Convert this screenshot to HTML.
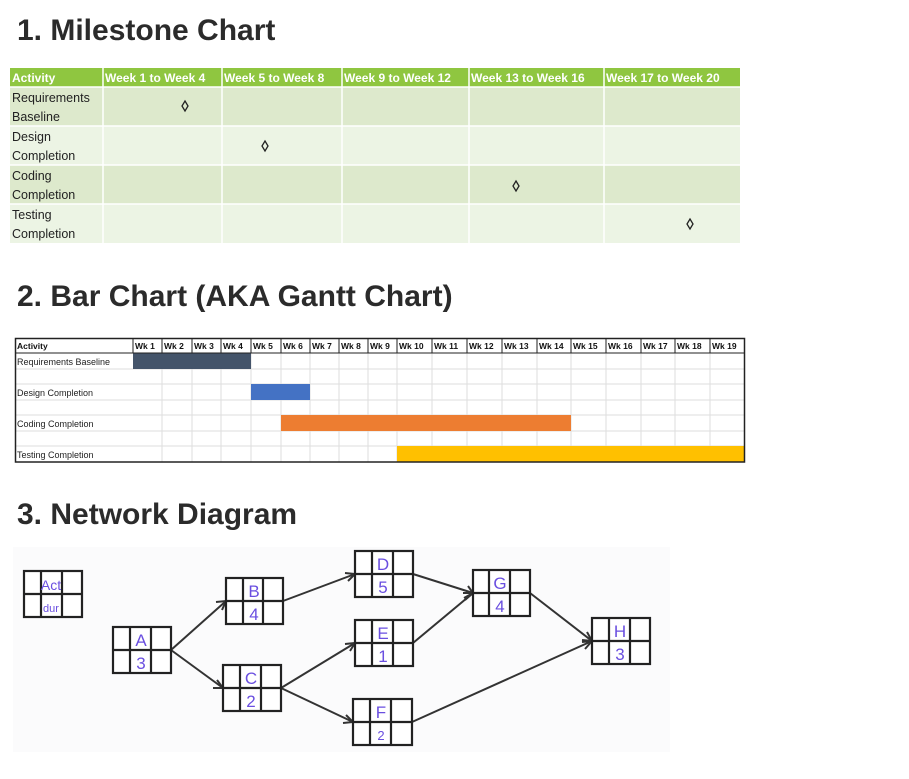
<!DOCTYPE html>
<html><head><meta charset="utf-8"><style>
body{margin:0;background:#fff;width:909px;height:779px;overflow:hidden;font-family:"Liberation Sans",sans-serif}
svg{position:absolute;left:0;top:0}
</style></head><body>
<svg width="909" height="779" viewBox="0 0 909 779" xmlns="http://www.w3.org/2000/svg" font-family="Liberation Sans, sans-serif">
<g font-size="30" font-weight="bold" fill="#2b2b2b">
<text x="17" y="40">1. Milestone Chart</text>
<text x="17" y="306">2. Bar Chart (AKA Gantt Chart)</text>
<text x="17" y="524">3. Network Diagram</text>
</g>
<!-- Milestone table -->
<rect x="10" y="68" width="730" height="19" fill="#8fc640"/>
<rect x="10" y="87" width="730" height="39" fill="#dde9cc"/>
<rect x="10" y="126" width="730" height="39" fill="#ecf4e4"/>
<rect x="10" y="165" width="730" height="39" fill="#dde9cc"/>
<rect x="10" y="204" width="730" height="39" fill="#ecf4e4"/>
<g stroke="#fff" stroke-width="1.5">
<line x1="103" y1="68" x2="103" y2="243"/><line x1="222" y1="68" x2="222" y2="243"/>
<line x1="342" y1="68" x2="342" y2="243"/><line x1="469" y1="68" x2="469" y2="243"/>
<line x1="604" y1="68" x2="604" y2="243"/>
<line x1="10" y1="87" x2="740" y2="87"/><line x1="10" y1="126" x2="740" y2="126"/>
<line x1="10" y1="165" x2="740" y2="165"/><line x1="10" y1="204" x2="740" y2="204"/>
</g>
<g font-size="12" font-weight="bold" fill="#fff">
<text x="12" y="82">Activity</text><text x="105" y="82">Week 1 to Week 4</text>
<text x="224" y="82">Week 5 to Week 8</text><text x="344" y="82">Week 9 to Week 12</text>
<text x="471" y="82">Week 13 to Week 16</text><text x="606" y="82">Week 17 to Week 20</text>
</g>
<g font-size="12.5" fill="#222">
<text x="12" y="102">Requirements</text><text x="12" y="121">Baseline</text>
<text x="12" y="141">Design</text><text x="12" y="160">Completion</text>
<text x="12" y="180">Coding</text><text x="12" y="199">Completion</text>
<text x="12" y="219">Testing</text><text x="12" y="238">Completion</text>
</g>
<g fill="none" stroke="#222" stroke-width="1.3">
<path d="M185 101 L188 106 L185 111 L182 106Z"/><path d="M265 141 L268 146 L265 151 L262 146Z"/>
<path d="M516 181 L519 186 L516 191 L513 186Z"/><path d="M690 219 L693 224 L690 229 L687 224Z"/>
</g>
<!-- Gantt -->
<g stroke="#ddd" stroke-width="1">
<line x1="15" y1="369" x2="745" y2="369"/><line x1="15" y1="384" x2="745" y2="384"/>
<line x1="15" y1="400" x2="745" y2="400"/><line x1="15" y1="415" x2="745" y2="415"/>
<line x1="15" y1="431" x2="745" y2="431"/><line x1="15" y1="446" x2="745" y2="446"/>
<line x1="162" y1="353" x2="162" y2="462"/><line x1="192" y1="353" x2="192" y2="462"/><line x1="221" y1="353" x2="221" y2="462"/><line x1="251" y1="353" x2="251" y2="462"/><line x1="281" y1="353" x2="281" y2="462"/><line x1="310" y1="353" x2="310" y2="462"/><line x1="339" y1="353" x2="339" y2="462"/><line x1="368" y1="353" x2="368" y2="462"/><line x1="397" y1="353" x2="397" y2="462"/><line x1="432" y1="353" x2="432" y2="462"/><line x1="467" y1="353" x2="467" y2="462"/><line x1="502" y1="353" x2="502" y2="462"/><line x1="537" y1="353" x2="537" y2="462"/><line x1="571" y1="353" x2="571" y2="462"/><line x1="606" y1="353" x2="606" y2="462"/><line x1="641" y1="353" x2="641" y2="462"/><line x1="675" y1="353" x2="675" y2="462"/><line x1="710" y1="353" x2="710" y2="462"/>
</g>
<rect x="133" y="353" width="118" height="16" fill="#44546a"/>
<rect x="251" y="384" width="59" height="16" fill="#4472c4"/>
<rect x="281" y="415" width="290" height="16" fill="#ed7d31"/>
<rect x="397" y="446" width="347" height="16" fill="#ffc000"/>
<g stroke="#222" stroke-width="1" fill="none">
<rect x="15.5" y="338.5" width="729" height="123.5" stroke-width="1.5"/>
<line x1="15" y1="353" x2="745" y2="353"/>
<line x1="133" y1="338" x2="133" y2="353"/><line x1="162" y1="338" x2="162" y2="353"/><line x1="192" y1="338" x2="192" y2="353"/><line x1="221" y1="338" x2="221" y2="353"/><line x1="251" y1="338" x2="251" y2="353"/><line x1="281" y1="338" x2="281" y2="353"/><line x1="310" y1="338" x2="310" y2="353"/><line x1="339" y1="338" x2="339" y2="353"/><line x1="368" y1="338" x2="368" y2="353"/><line x1="397" y1="338" x2="397" y2="353"/><line x1="432" y1="338" x2="432" y2="353"/><line x1="467" y1="338" x2="467" y2="353"/><line x1="502" y1="338" x2="502" y2="353"/><line x1="537" y1="338" x2="537" y2="353"/><line x1="571" y1="338" x2="571" y2="353"/><line x1="606" y1="338" x2="606" y2="353"/><line x1="641" y1="338" x2="641" y2="353"/><line x1="675" y1="338" x2="675" y2="353"/><line x1="710" y1="338" x2="710" y2="353"/>
</g>
<g font-size="8.5" font-weight="bold" fill="#111">
<text x="17" y="349">Activity</text>
<text x="135" y="349">Wk 1</text><text x="164" y="349">Wk 2</text><text x="194" y="349">Wk 3</text><text x="223" y="349">Wk 4</text><text x="253" y="349">Wk 5</text><text x="283" y="349">Wk 6</text><text x="312" y="349">Wk 7</text><text x="341" y="349">Wk 8</text><text x="370" y="349">Wk 9</text><text x="399" y="349">Wk 10</text><text x="434" y="349">Wk 11</text><text x="469" y="349">Wk 12</text><text x="504" y="349">Wk 13</text><text x="539" y="349">Wk 14</text><text x="573" y="349">Wk 15</text><text x="608" y="349">Wk 16</text><text x="643" y="349">Wk 17</text><text x="677" y="349">Wk 18</text><text x="712" y="349">Wk 19</text>
</g>
<g font-size="9" fill="#222">
<text x="17" y="365">Requirements Baseline</text><text x="17" y="396">Design Completion</text>
<text x="17" y="427">Coding Completion</text><text x="17" y="458">Testing Completion</text>
</g>
<!-- Network -->
<rect x="13" y="547" width="657" height="205" fill="#fbfbfc"/>
<g stroke="#333" stroke-width="2" fill="none">
<path d="M171 650 L226 601 M171 650 L223 688 M283 601 L355 574 M281 688 L355 643 M281 688 L353 722 M413 574 L473 593 M413 643 L473 593 M530 593 L592 641 M412 722 L592 641"/>
<path d="M216 602 L226 601 L222 610 M213 688 L223 688 L217 680 M345 573 L355 574 L348 581 M345 644 L355 643 L350 651 M343 723 L353 722 L346 715 M463 593 L473 593 L465 600 M464 598 L473 593 L468 586 M582 640 L592 641 L587 632 M582 642 L592 641 L585 649"/>
</g>
<g stroke="#222" stroke-width="2.2" fill="#fff">
<g transform="translate(24,571)"><rect width="58" height="46"/><path d="M17 0V46M38 0V46M0 23H58"/></g>
<g transform="translate(113,627)"><rect width="58" height="46"/><path d="M17 0V46M38 0V46M0 23H58"/></g>
<g transform="translate(226,578)"><rect width="57" height="46"/><path d="M17 0V46M37 0V46M0 23H57"/></g>
<g transform="translate(223,665)"><rect width="58" height="46"/><path d="M17 0V46M38 0V46M0 23H58"/></g>
<g transform="translate(355,551)"><rect width="58" height="46"/><path d="M17 0V46M38 0V46M0 23H58"/></g>
<g transform="translate(355,620)"><rect width="58" height="46"/><path d="M17 0V46M38 0V46M0 23H58"/></g>
<g transform="translate(353,699)"><rect width="59" height="46"/><path d="M17 0V46M38 0V46M0 23H59"/></g>
<g transform="translate(473,570)"><rect width="57" height="46"/><path d="M16 0V46M37 0V46M0 23H57"/></g>
<g transform="translate(592,618)"><rect width="58" height="46"/><path d="M17 0V46M38 0V46M0 23H58"/></g>
</g>
<g fill="#6a4fe0" font-size="17" text-anchor="middle">
<text x="51" y="590" font-size="14">Act</text><text x="51" y="612" font-size="11">dur</text>
<text x="141" y="646">A</text><text x="141" y="669">3</text>
<text x="254" y="597">B</text><text x="254" y="620">4</text>
<text x="251" y="684">C</text><text x="251" y="707">2</text>
<text x="383" y="570">D</text><text x="383" y="593">5</text>
<text x="383" y="639">E</text><text x="383" y="662">1</text>
<text x="381" y="718">F</text><text x="381" y="740" font-size="13">2</text>
<text x="500" y="589">G</text><text x="500" y="612">4</text>
<text x="620" y="637">H</text><text x="620" y="660">3</text>
</g>
</svg>
</body></html>
